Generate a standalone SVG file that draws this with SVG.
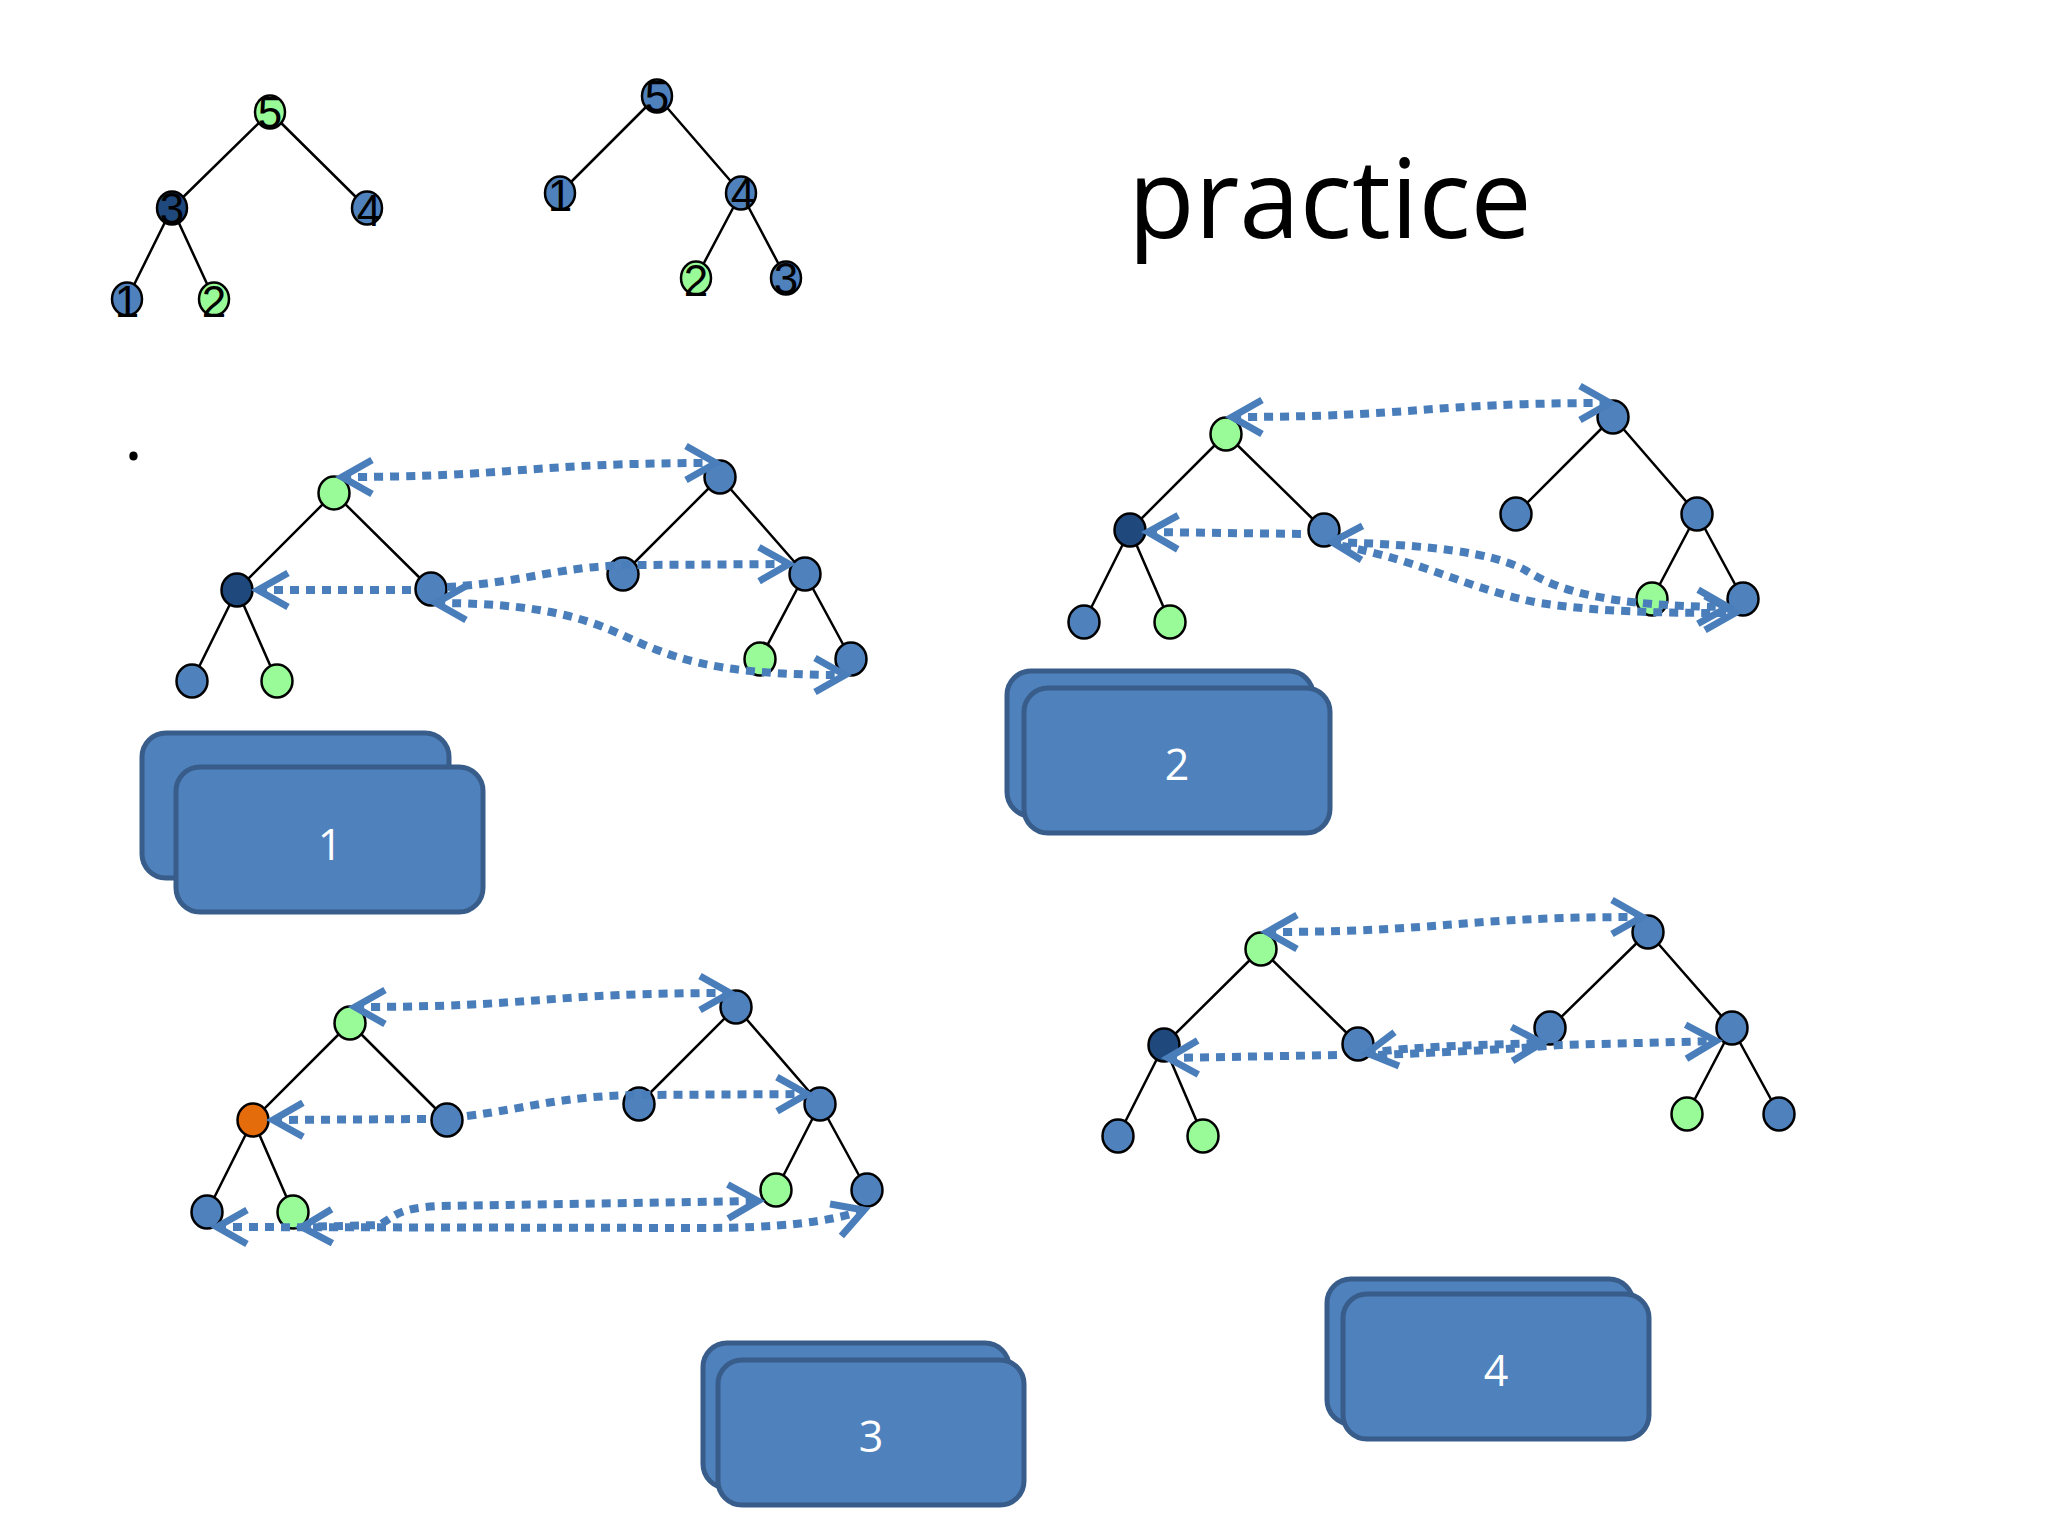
<svg xmlns="http://www.w3.org/2000/svg" width="2048" height="1536" viewBox="0 0 2048 1536">
<style>
.e{stroke:#000;stroke-width:2.5;fill:none}
.n{stroke:#000;stroke-width:2.5}
.b{fill:#4f81bd}.d{fill:#1f497d}.g{fill:#98fb98}.o{fill:#e46c0a}
.c{fill:none;stroke:#4a7ebb;stroke-width:8;stroke-dasharray:9 7;marker-start:url(#ah);marker-end:url(#ah)}
.box{fill:#4f81bd;stroke:#385d8a;stroke-width:5}
.bt{font-family:"Open Sans","Liberation Sans",sans-serif;font-size:43px;fill:#fff;text-anchor:middle}
.dg{font-family:"Liberation Sans",Arial,sans-serif;font-size:44px;fill:#000;text-anchor:middle}
</style>
<defs>
<marker id="ah" markerUnits="userSpaceOnUse" markerWidth="50" markerHeight="50" refX="36" refY="22" orient="auto-start-reverse" overflow="visible">
<path d="M6,5 L36,22 L6,39" fill="none" stroke="#4a7ebb" stroke-width="7"/>
</marker>
</defs>
<rect width="2048" height="1536" fill="#fff"/>

<text x="1128" y="238" font-family="'Open Sans','Liberation Sans',sans-serif" font-size="109" fill="#000">practice</text>
<text x="124" y="460" font-family="'Open Sans','Liberation Sans',sans-serif" font-size="72" fill="#000">.</text>

<!-- tree edges -->
<g id="edges">
<path class="e" d="M270,112 L172,208 M270,112 L367,208 M172,208 L127,299 M172,208 L214,299"/>
<path class="e" d="M657,96 L560,193 M657,96 L741,193 M741,193 L696,278 M741,193 L786,278"/>
<path class="e" d="M334,493 L237,590 M334,493 L431,589 M237,590 L192,681 M237,590 L277,681 M720,477 L623,574 M720,477 L805,574 M805,574 L760,659 M805,574 L851,659"/>
<path class="e" d="M1226,434 L1130,530 M1226,434 L1324,530 M1130,530 L1084,622 M1130,530 L1170,622 M1613,417 L1516,514 M1613,417 L1697,514 M1697,514 L1652,599 M1697,514 L1743,599"/>
<path class="e" d="M350,1023 L253,1120 M350,1023 L447,1120 M253,1120 L207,1212 M253,1120 L293,1212 M736,1007 L639,1104 M736,1007 L820,1104 M820,1104 L776,1190 M820,1104 L867,1190"/>
<path class="e" d="M1261,949 L1164,1045 M1261,949 L1358,1044 M1164,1045 L1118,1136 M1164,1045 L1203,1136 M1648,932 L1550,1028 M1648,932 L1732,1028 M1732,1028 L1687,1114 M1732,1028 L1779,1114"/>
</g>

<!-- top tree A -->
<g id="a5"><ellipse class="n g" cx="270" cy="112" rx="15" ry="16.5"/><text class="dg" x="270" y="128">5</text></g>
<g id="a3"><ellipse class="n d" cx="172" cy="208" rx="15" ry="16.5"/><text class="dg" x="172" y="224">3</text></g>
<g id="a4"><ellipse class="n b" cx="367" cy="208" rx="15" ry="16.5"/><text class="dg" x="369" y="226">4</text></g>
<g id="a1"><ellipse class="n b" cx="127" cy="299" rx="15" ry="16.5"/><text class="dg" x="127" y="317">1</text></g>
<g id="a2"><ellipse class="n g" cx="214" cy="299" rx="15" ry="16.5"/><text class="dg" x="214" y="317">2</text></g>
<!-- top tree B -->
<g id="b5"><ellipse class="n b" cx="657" cy="96" rx="15" ry="16.5"/><text class="dg" x="657" y="112">5</text></g>
<g id="b1"><ellipse class="n b" cx="560" cy="193" rx="15" ry="16.5"/><text class="dg" x="560" y="211">1</text></g>
<g id="b4"><ellipse class="n b" cx="741" cy="193" rx="15" ry="16.5"/><text class="dg" x="743" y="209">4</text></g>
<g id="b2"><ellipse class="n g" cx="696" cy="278" rx="15" ry="16.5"/><text class="dg" x="696" y="296">2</text></g>
<g id="b3"><ellipse class="n b" cx="786" cy="278" rx="15" ry="16.5"/><text class="dg" x="786" y="294">3</text></g>

<!-- tree 1 -->
<g id="t1l0"><ellipse class="n g" cx="334" cy="493" rx="15.5" ry="16.5"/></g>
<g id="t1l1"><ellipse class="n d" cx="237" cy="590" rx="15.5" ry="16.5"/></g>
<g id="t1l2"><ellipse class="n b" cx="431" cy="589" rx="15.5" ry="16.5"/></g>
<g id="t1l3"><ellipse class="n b" cx="192" cy="681" rx="15.5" ry="16.5"/></g>
<g id="t1l4"><ellipse class="n g" cx="277" cy="681" rx="15.5" ry="16.5"/></g>
<g id="t1r0"><ellipse class="n b" cx="720" cy="477" rx="15.5" ry="16.5"/></g>
<g id="t1r1"><ellipse class="n b" cx="623" cy="574" rx="15.5" ry="16.5"/></g>
<g id="t1r2"><ellipse class="n b" cx="805" cy="574" rx="15.5" ry="16.5"/></g>
<g id="t1r3"><ellipse class="n g" cx="760" cy="659" rx="15.5" ry="16.5"/></g>
<g id="t1r4"><ellipse class="n b" cx="851" cy="659" rx="15.5" ry="16.5"/></g>

<!-- tree 2 -->
<g id="t2l0"><ellipse class="n g" cx="1226" cy="434" rx="15.5" ry="16.5"/></g>
<g id="t2l1"><ellipse class="n d" cx="1130" cy="530" rx="15.5" ry="16.5"/></g>
<g id="t2l2"><ellipse class="n b" cx="1324" cy="530" rx="15.5" ry="16.5"/></g>
<g id="t2l3"><ellipse class="n b" cx="1084" cy="622" rx="15.5" ry="16.5"/></g>
<g id="t2l4"><ellipse class="n g" cx="1170" cy="622" rx="15.5" ry="16.5"/></g>
<g id="t2r0"><ellipse class="n b" cx="1613" cy="417" rx="15.5" ry="16.5"/></g>
<g id="t2r1"><ellipse class="n b" cx="1516" cy="514" rx="15.5" ry="16.5"/></g>
<g id="t2r2"><ellipse class="n b" cx="1697" cy="514" rx="15.5" ry="16.5"/></g>
<g id="t2r3"><ellipse class="n g" cx="1652" cy="599" rx="15.5" ry="16.5"/></g>
<g id="t2r4"><ellipse class="n b" cx="1743" cy="599" rx="15.5" ry="16.5"/></g>

<!-- tree 3 -->
<g id="t3l0"><ellipse class="n g" cx="350" cy="1023" rx="15.5" ry="16.5"/></g>
<g id="t3l1"><ellipse class="n o" cx="253" cy="1120" rx="15.5" ry="16.5"/></g>
<g id="t3l2"><ellipse class="n b" cx="447" cy="1120" rx="15.5" ry="16.5"/></g>
<g id="t3l3"><ellipse class="n b" cx="207" cy="1212" rx="15.5" ry="16.5"/></g>
<g id="t3l4"><ellipse class="n g" cx="293" cy="1212" rx="15.5" ry="16.5"/></g>
<g id="t3r0"><ellipse class="n b" cx="736" cy="1007" rx="15.5" ry="16.5"/></g>
<g id="t3r1"><ellipse class="n b" cx="639" cy="1104" rx="15.5" ry="16.5"/></g>
<g id="t3r2"><ellipse class="n b" cx="820" cy="1104" rx="15.5" ry="16.5"/></g>
<g id="t3r3"><ellipse class="n g" cx="776" cy="1190" rx="15.5" ry="16.5"/></g>
<g id="t3r4"><ellipse class="n b" cx="867" cy="1190" rx="15.5" ry="16.5"/></g>

<!-- tree 4 -->
<g id="t4l0"><ellipse class="n g" cx="1261" cy="949" rx="15.5" ry="16.5"/></g>
<g id="t4l1"><ellipse class="n d" cx="1164" cy="1045" rx="15.5" ry="16.5"/></g>
<g id="t4l2"><ellipse class="n b" cx="1358" cy="1044" rx="15.5" ry="16.5"/></g>
<g id="t4l3"><ellipse class="n b" cx="1118" cy="1136" rx="15.5" ry="16.5"/></g>
<g id="t4l4"><ellipse class="n g" cx="1203" cy="1136" rx="15.5" ry="16.5"/></g>
<g id="t4r0"><ellipse class="n b" cx="1648" cy="932" rx="15.5" ry="16.5"/></g>
<g id="t4r1"><ellipse class="n b" cx="1550" cy="1028" rx="15.5" ry="16.5"/></g>
<g id="t4r2"><ellipse class="n b" cx="1732" cy="1028" rx="15.5" ry="16.5"/></g>
<g id="t4r3"><ellipse class="n g" cx="1687" cy="1114" rx="15.5" ry="16.5"/></g>
<g id="t4r4"><ellipse class="n b" cx="1779" cy="1114" rx="15.5" ry="16.5"/></g>

<!-- boxes -->
<g id="box1"><rect class="box" x="142" y="733" width="307" height="145" rx="24"/><rect class="box" x="176" y="767" width="307" height="145" rx="24"/><text class="bt" x="330" y="860">1</text></g>
<g id="box2"><rect class="box" x="1007" y="671" width="306" height="145" rx="24"/><rect class="box" x="1024" y="688" width="306" height="145" rx="24"/><text class="bt" x="1177" y="780">2</text></g>
<g id="box3"><rect class="box" x="703" y="1343" width="306" height="145" rx="24"/><rect class="box" x="718" y="1360" width="306" height="145" rx="24"/><text class="bt" x="871" y="1452">3</text></g>
<g id="box4"><rect class="box" x="1327" y="1279" width="306" height="145" rx="24"/><rect class="box" x="1343" y="1294" width="306" height="145" rx="24"/><text class="bt" x="1496" y="1386">4</text></g>

<!-- connectors -->
<g id="connectors">
<path class="c" d="M342,477 C520,477 520,463 716,463"/>
<path class="c" d="M258,590 L416,590 M447,587 C530,582 560,565 640,565 L789,564"/>
<path class="c" d="M436,603 C560,603 600,625 640,643 C690,665 740,675 845,675"/>

<path class="c" d="M1232,417 C1420,417 1420,403 1610,403"/>
<path class="c" d="M1148,532 L1306,534 M1342,546 C1420,560 1470,590 1540,603 C1600,612 1660,613 1735,613"/>
<path class="c" d="M1332,542 C1430,545 1490,552 1525,570 C1560,592 1610,606 1728,607"/>

<path class="c" d="M355,1007 C540,1007 540,993 730,993"/>
<path class="c" d="M273,1120 L427,1119 M467,1116 C530,1108 560,1096 640,1095 L807,1094"/>
<path class="c" d="M217,1227 L700,1228 C780,1228 830,1222 864,1210"/>
<path class="c" d="M302,1227 L380,1225 C395,1215 400,1208 440,1206 L758,1201"/>

<path class="c" d="M1267,932 C1450,932 1450,917 1642,917"/>
<path class="c" d="M1168,1058 L1341,1055 M1378,1055 C1450,1052 1500,1050 1560,1045 L1716,1041"/>
<path class="c" d="M1367,1053 C1420,1046 1480,1045 1542,1043"/>
</g>
</svg>
